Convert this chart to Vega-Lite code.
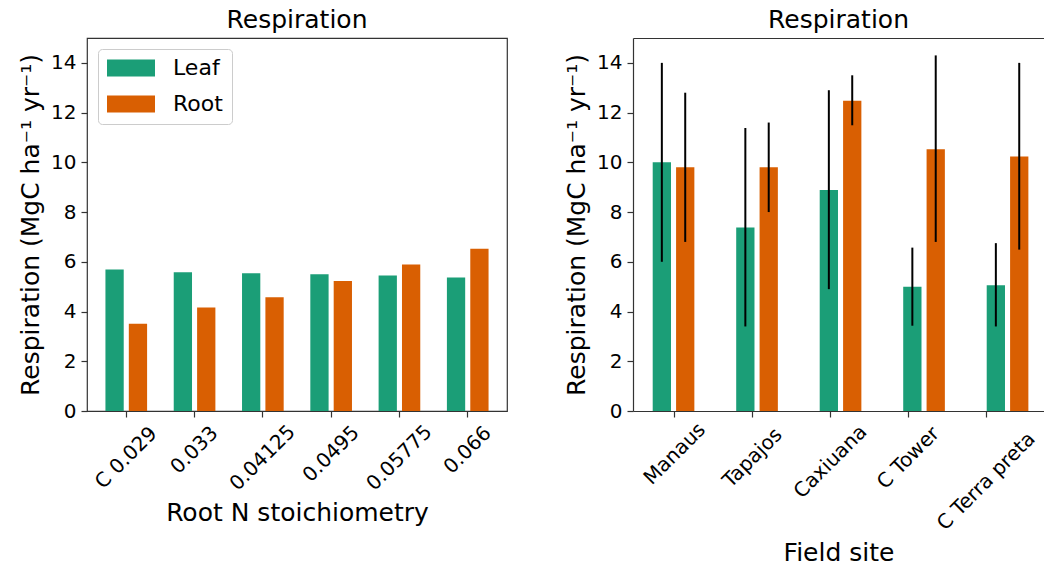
{
  "$schema": "https://vega.github.io/schema/vega-lite/v6.json",
  "padding": {"left": 17, "top": 7, "right": 0, "bottom": 0},
  "background": "white",
  "datasets": {
    "stoich": [
      {"ratio": "C 0.029", "part": "Leaf", "resp": 5.69},
      {"ratio": "C 0.029", "part": "Root", "resp": 3.51},
      {"ratio": "0.033", "part": "Leaf", "resp": 5.58},
      {"ratio": "0.033", "part": "Root", "resp": 4.16},
      {"ratio": "0.04125", "part": "Leaf", "resp": 5.54},
      {"ratio": "0.04125", "part": "Root", "resp": 4.57},
      {"ratio": "0.0495", "part": "Leaf", "resp": 5.5},
      {"ratio": "0.0495", "part": "Root", "resp": 5.23},
      {"ratio": "0.05775", "part": "Leaf", "resp": 5.45},
      {"ratio": "0.05775", "part": "Root", "resp": 5.89},
      {"ratio": "0.066", "part": "Leaf", "resp": 5.37},
      {"ratio": "0.066", "part": "Root", "resp": 6.52}
    ],
    "sites": [
      {"site": "Manaus", "part": "Leaf", "resp": 10.0, "lo": 6.0, "hi": 14.0},
      {"site": "Manaus", "part": "Root", "resp": 9.8, "lo": 6.8, "hi": 12.8},
      {"site": "Tapajos", "part": "Leaf", "resp": 7.38, "lo": 3.4, "hi": 11.38},
      {"site": "Tapajos", "part": "Root", "resp": 9.8, "lo": 8.0, "hi": 11.6},
      {"site": "Caxiuana", "part": "Leaf", "resp": 8.89, "lo": 4.9, "hi": 12.9},
      {"site": "Caxiuana", "part": "Root", "resp": 12.48, "lo": 11.49, "hi": 13.5},
      {"site": "C Tower", "part": "Leaf", "resp": 5.0, "lo": 3.43, "hi": 6.57},
      {"site": "C Tower", "part": "Root", "resp": 10.53, "lo": 6.8, "hi": 14.3},
      {"site": "C Terra preta", "part": "Leaf", "resp": 5.06, "lo": 3.4, "hi": 6.75},
      {"site": "C Terra preta", "part": "Root", "resp": 10.23, "lo": 6.49, "hi": 14.0}
    ]
  },
  "spacing": 56,
  "resolve": {"legend": {"color": "independent"}},
  "hconcat": [
    {
      "width": 420,
      "height": 373,
      "title": "Respiration",
      "data": {"name": "stoich"},
      "mark": {"type": "bar"},
      "encoding": {
        "x": {
          "field": "ratio", "type": "nominal", "sort": null,
          "scale": {"paddingInner": 0.39, "paddingOuter": 0.27},
          "axis": {
            "title": "Root N stoichiometry",
            "labelAngle": -45, "labelAlign": "center", "labelBaseline": "middle",
            "labelPadding": {"expr": "8 + 0.3535*(11*length(datum.label)+15)"}
          }
        },
        "xOffset": {"field": "part", "type": "nominal", "scale": {"paddingInner": 0.218, "paddingOuter": 0}},
        "y": {
          "field": "resp", "type": "quantitative",
          "scale": {"domain": [0, 15], "nice": false},
          "axis": {"values": [0, 2, 4, 6, 8, 10, 12, 14], "title": "Respiration (MgC ha⁻¹ yr⁻¹)"}
        },
        "color": {
          "field": "part", "type": "nominal",
          "scale": {"domain": ["Leaf", "Root"], "range": ["#1b9e77", "#d95f02"]},
          "legend": {
            "orient": "none", "legendX": 11, "legendY": 11, "title": null,
            "symbolType": "M-1,-0.35H1V0.35H-1Z", "symbolSize": 2304, "symbolStrokeWidth": 0, "symbolOpacity": 1,
            "clipHeight": 20, "rowPadding": 14, "labelOffset": 18, "labelFontSize": 22, "labelFont": "DejaVu Sans", "labelColor": "black",
            "padding": 9, "strokeColor": "#cccccc", "fillColor": "white", "cornerRadius": 4
          }
        }
      }
    },
    {
      "width": 411,
      "height": 373,
      "title": "Respiration",
      "view": {"stroke": null},
      "data": {"name": "sites"},
      "resolve": {"axis": {"x": "independent"}},
      "layer": [
        {
          "mark": {"type": "bar"},
          "encoding": {
            "x": {
              "field": "site", "type": "nominal", "sort": null,
              "scale": {"paddingInner": 0.418, "paddingOuter": 0.17, "align": 0.694},
              "axis": {
                "title": "Field site", "domain": true, "domainColor": "#333333", "domainWidth": 1.2,
                "tickOffset": {"expr": "-2.7 - 5.6*indexof(['Manaus','Tapajos','Caxiuana','C Tower','C Terra preta'], datum.value)"},
                "labelAngle": -45, "labelAlign": "center", "labelBaseline": "middle",
                "labelPadding": {"expr": "8 + 0.3535*(11*length(datum.label)+15)"}
              }
            },
            "xOffset": {"field": "part", "type": "nominal", "scale": {"paddingInner": 0.24, "paddingOuter": 0}},
            "y": {
              "field": "resp", "type": "quantitative",
              "scale": {"domain": [0, 15], "nice": false},
              "axis": {"values": [0, 2, 4, 6, 8, 10, 12, 14], "title": "Respiration (MgC ha⁻¹ yr⁻¹)", "domain": true, "domainColor": "#333333", "domainWidth": 1.2}
            },
            "color": {
              "field": "part", "type": "nominal",
              "scale": {"domain": ["Leaf", "Root"], "range": ["#1b9e77", "#d95f02"]},
              "legend": null
            }
          }
        },
        {
          "mark": {"type": "rule", "color": "black", "strokeWidth": 2},
          "encoding": {
            "x": {
              "field": "site", "type": "nominal", "sort": null,
              "axis": {"orient": "top", "labels": false, "ticks": false, "title": null, "domain": true, "domainColor": "#333333", "domainWidth": 1.2}
            },
            "xOffset": {"field": "part", "type": "nominal"},
            "y": {"field": "lo", "type": "quantitative"},
            "y2": {"field": "hi"}
          }
        }
      ]
    }
  ],
  "config": {
    "font": "DejaVu Sans",
    "view": {"stroke": "#333333", "strokeWidth": 1.2},
    "title": {"fontSize": 25, "font": "DejaVu Sans", "fontWeight": "normal", "color": "black", "offset": 5, "anchor": "middle"},
    "axis": {
      "domain": false, "grid": false,
      "tickColor": "#333333", "tickSize": 6, "tickWidth": 1.2,
      "labelFont": "DejaVu Sans", "labelFontSize": 20, "labelColor": "black", "labelPadding": 5,
      "titleFont": "DejaVu Sans", "titleFontSize": 25, "titleFontWeight": "normal", "titleColor": "black", "titlePadding": 7
    }
  }
}
